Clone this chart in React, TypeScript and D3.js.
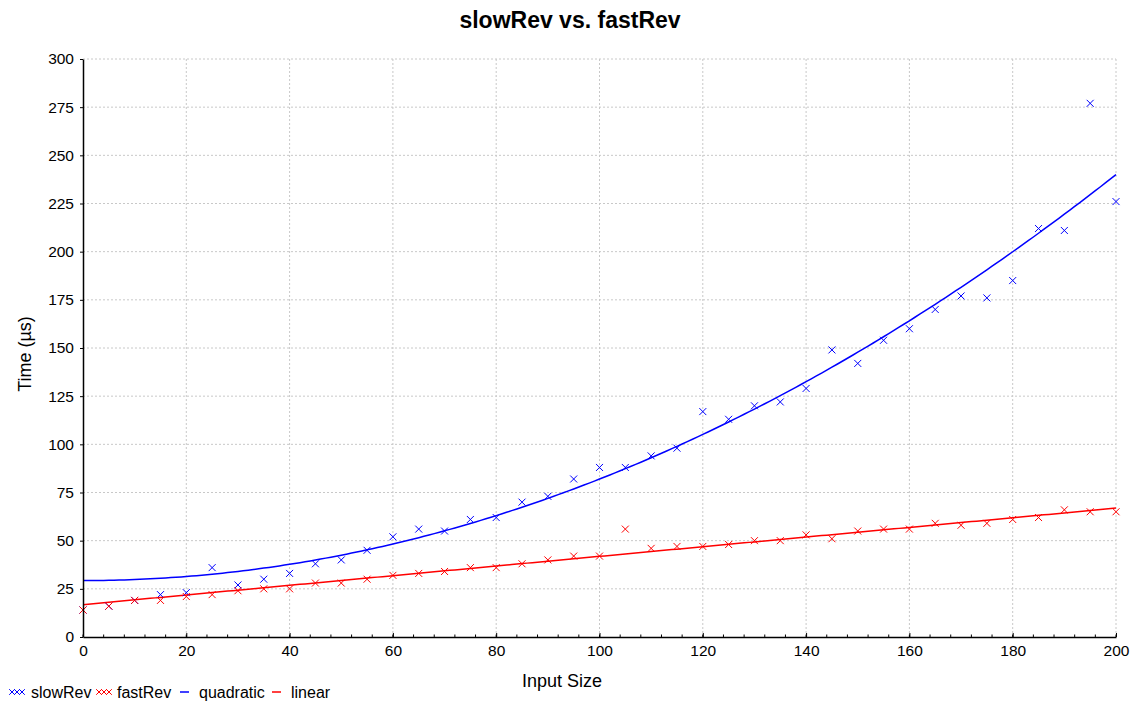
import React, { useEffect, useRef } from "react";
import * as d3 from "d3";

// input sizes 0..200 step 5
const inputSizes = [0, 5, 10, 15, 20, 25, 30, 35, 40, 45, 50, 55, 60, 65, 70, 75, 80, 85, 90, 95, 100,
  105, 110, 115, 120, 125, 130, 135, 140, 145, 150, 155, 160, 165, 170, 175, 180, 185, 190, 195, 200];

const slowRev = [14, 16, 19, 22, 23, 36, 27, 30, 33, 38, 40, 45, 52, 56, 55, 61, 62, 70, 73, 82, 88,
  88, 94, 98, 117, 113, 120, 122, 129, 149, 142, 154, 160, 170, 177, 176, 185, 212, 211, 277, 226];

const fastRev = [14, 16, 19, 19, 21, 22, 24, 25, 25, 28, 28, 30, 32, 33, 34, 36, 36, 38, 40, 42, 42,
  56, 46, 47, 47, 48, 50, 50, 53, 51, 55, 56, 56, 59, 58, 59, 61, 62, 66, 65, 65];

// fitted curves, coefficients
const quadraticFit = { a: 29.3, c: 0.005267 }; // a + c*n^2
const linearFit = { a: 16.8, b: 0.2505 };      // a + b*n

const xTicks = [0, 20, 40, 60, 80, 100, 120, 140, 160, 180, 200];
const yTicks = [0, 25, 50, 75, 100, 125, 150, 175, 200, 225, 250, 275, 300];

const FONT = "'Liberation Sans', Arial, Helvetica, sans-serif";

export default function App() {
  const ref = useRef<SVGSVGElement>(null);

  useEffect(() => {
    const svg = d3.select(ref.current);
    svg.selectAll("*").remove();

    const margin = { top: 59, right: 20, bottom: 67, left: 83 };
    const width = 1136 - margin.left - margin.right;
    const height = 704 - margin.top - margin.bottom;

    const x = d3.scaleLinear().domain([0, 200]).range([0, width]);
    const y = d3.scaleLinear().domain([0, 300]).range([height, 0]);

    const g = svg.append("g").attr("transform", `translate(${margin.left},${margin.top})`);

    // grid
    g.selectAll(".gx").data(xTicks.slice(1)).enter().append("line")
      .attr("x1", d => x(d)).attr("x2", d => x(d)).attr("y1", 0).attr("y2", height)
      .attr("stroke", "#c8c8c8").attr("stroke-dasharray", "2,2");
    g.selectAll(".gy").data(yTicks.slice(1)).enter().append("line")
      .attr("x1", 0).attr("x2", width).attr("y1", d => y(d)).attr("y2", d => y(d))
      .attr("stroke", "#c8c8c8").attr("stroke-dasharray", "2,2");

    // fits
    const quad = (n: number) => quadraticFit.a + quadraticFit.c * n * n;
    const lin = (n: number) => linearFit.a + linearFit.b * n;
    const samples = d3.range(0, 201, 1);
    const line = d3.line<number>().x(d => x(d));
    g.append("path").datum(samples)
      .attr("d", line.y(d => y(quad(d))))
      .attr("fill", "none").attr("stroke", "#0000ff").attr("stroke-width", 1.5);
    g.append("path").datum(samples)
      .attr("d", line.y(d => y(lin(d))))
      .attr("fill", "none").attr("stroke", "#ff0000").attr("stroke-width", 1.5);

    const cross = (sel: any, color: string, vals: number[]) => {
      const s = 3.5;
      sel.selectAll(null).data(inputSizes).enter().append("path")
        .attr("d", (d: number, i: number) => {
          const cx = x(d), cy = y(vals[i]);
          return `M${cx - s},${cy - s}L${cx + s},${cy + s}M${cx - s},${cy + s}L${cx + s},${cy - s}`;
        })
        .attr("stroke", color).attr("stroke-width", 1).attr("fill", "none");
    };
    cross(g, "#0000ff", slowRev);
    cross(g, "#ff0000", fastRev);

    // axes
    const xAxis = g.append("g").attr("transform", `translate(0,${height})`)
      .call(d3.axisBottom(x).tickValues(xTicks).tickSize(-4).tickPadding(8).tickSizeOuter(0));
    xAxis.append("g").selectAll("line").data(d3.range(0, 201, 4)).enter().append("line")
      .attr("x1", d => x(d)).attr("x2", d => x(d)).attr("y1", 0).attr("y2", -2.5).attr("stroke", "#000");
    const yAxis = g.append("g")
      .call(d3.axisLeft(y).tickValues(yTicks).tickSize(3).tickPadding(6).tickSizeOuter(0));
    [xAxis, yAxis].forEach(a => {
      a.select(".domain").attr("stroke", "#000").attr("stroke-width", 1.5);
      a.selectAll("text").attr("font-family", FONT).attr("font-size", 15.5).attr("fill", "#000");
    });

    // labels
    svg.append("text").attr("x", 570).attr("y", 28).attr("text-anchor", "middle")
      .attr("font-family", FONT).attr("font-size", 23).attr("font-weight", "bold").text("slowRev vs. fastRev");
    svg.append("text").attr("x", 562).attr("y", 687).attr("text-anchor", "middle")
      .attr("font-family", FONT).attr("font-size", 18).text("Input Size");
    svg.append("text").attr("transform", `translate(31,354) rotate(-90)`)
      .attr("text-anchor", "middle").attr("font-family", FONT).attr("font-size", 18).text("Time (µs)");

    // legend
    const leg = svg.append("g").attr("transform", "translate(0,698)");
    const items = [
      { label: "slowRev", color: "#0000ff", kind: "cross", x: 9, tx: 31 },
      { label: "fastRev", color: "#ff0000", kind: "cross", x: 96, tx: 117 },
      { label: "quadratic", color: "#0000ff", kind: "line", x: 180, tx: 199 },
      { label: "linear", color: "#ff0000", kind: "line", x: 272, tx: 291 },
    ];
    items.forEach(it => {
      if (it.kind === "cross") {
        [0, 5, 10].forEach(o => {
          const cx = it.x + 3 + o, s = 2.8, cy = -6;
          leg.append("path")
            .attr("d", `M${cx - s},${cy - s}L${cx + s},${cy + s}M${cx - s},${cy + s}L${cx + s},${cy - s}`)
            .attr("stroke", it.color).attr("stroke-width", 1);
        });
      } else {
        leg.append("line").attr("x1", it.x).attr("x2", it.x + 9).attr("y1", -6).attr("y2", -6)
          .attr("stroke", it.color).attr("stroke-width", 1.5);
      }
      leg.append("text").attr("x", it.tx).attr("y", 0).attr("font-family", FONT).attr("font-size", 16)
        .text(it.label);
    });
  }, []);

  return <svg ref={ref} width={1136} height={704} style={{ position: "absolute", left: 0, top: 0, background: "#fff" }} />;
}
